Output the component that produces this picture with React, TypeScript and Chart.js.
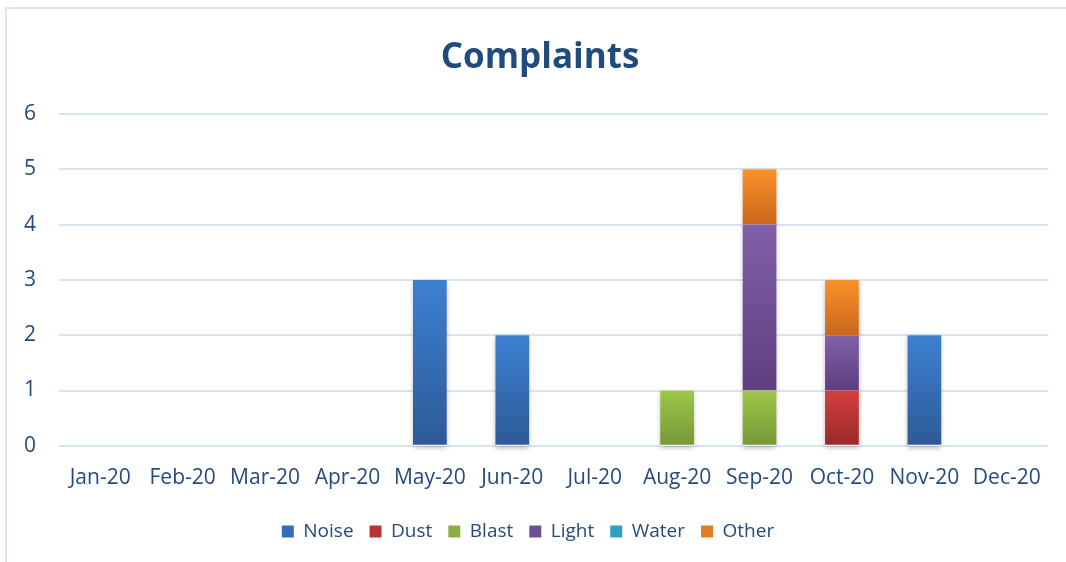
import React, { useEffect, useRef } from "react";
import { Chart, registerables } from "chart.js";

Chart.register(...registerables);

const categories = ["Jan-20", "Feb-20", "Mar-20", "Apr-20", "May-20", "Jun-20", "Jul-20", "Aug-20", "Sep-20", "Oct-20", "Nov-20", "Dec-20"];
const noise = [0, 0, 0, 0, 3, 2, 0, 0, 0, 0, 2, 0];
const dust = [0, 0, 0, 0, 0, 0, 0, 0, 0, 1, 0, 0];
const blast = [0, 0, 0, 0, 0, 0, 0, 1, 1, 0, 0, 0];
const light = [0, 0, 0, 0, 0, 0, 0, 0, 3, 1, 0, 0];
const water = [0, 0, 0, 0, 0, 0, 0, 0, 0, 0, 0, 0];
const other = [0, 0, 0, 0, 0, 0, 0, 0, 1, 1, 0, 0];
const yTicks = [0, 1, 2, 3, 4, 5, 6];

const seriesNames = ["Noise", "Dust", "Blast", "Light", "Water", "Other"];
const seriesData = [noise, dust, blast, light, water, other];
const topColors = ["#3d80d1", "#d23f3d", "#9fc74a", "#8160ab", "#34b4d9", "#f99229"];
const bottomColors = ["#2c5a96", "#9a2a2a", "#77973a", "#5d3f7e", "#2789a6", "#c9661c"];
const midColors = ["#356dba", "#bb3434", "#8bb042", "#6f4f95", "#2f9fc2", "#e27b22"];

const TEXT = "#254a7c";
const FONT = "'Open Sans', 'Noto Sans', sans-serif";

export default function App() {
  const ref = useRef<HTMLCanvasElement | null>(null);
  useEffect(() => {
    if (!ref.current) return;
    const shadowPlugin = {
      id: "barShadow",
      afterLayout(chart: any) {
        if (chart.titleBlock) {
          chart.titleBlock.left += 12;
          chart.titleBlock.right += 12;
        }
      },
      beforeDatasetsDraw(chart: any) {
        const ctx = chart.ctx;
        const meta0 = chart.getDatasetMeta(0);
        const y = chart.scales.y;
        ctx.save();
        ctx.shadowColor = "rgba(0,0,0,0.28)";
        ctx.shadowBlur = 5;
        ctx.shadowOffsetY = 2;
        ctx.fillStyle = "#ffffff";
        categories.forEach((_, i) => {
          let total = 0;
          seriesData.forEach((d) => (total += d[i]));
          if (total <= 0) return;
          const bar: any = meta0.data[i];
          const w = bar.width;
          const top = y.getPixelForValue(total);
          const bottom = y.getPixelForValue(0);
          ctx.fillRect(bar.x - w / 2, top, w, bottom - top);
        });
        ctx.restore();
      },
    };
    const datasets = seriesNames.map((name, s) => ({
      label: name,
      data: seriesData[s],
      borderWidth: 0,
      borderSkipped: false,
      backgroundColor: (c: any) => {
        const chart = c.chart;
        const y = chart.scales && chart.scales.y;
        if (!y || c.dataIndex === undefined || c.type !== "data") return midColors[s];
        let base = 0;
        for (let k = 0; k < s; k++) base += seriesData[k][c.dataIndex];
        const v = seriesData[s][c.dataIndex];
        const top = y.getPixelForValue(base + v);
        const bottom = y.getPixelForValue(base);
        if (!isFinite(top) || !isFinite(bottom) || top === bottom) return midColors[s];
        const g = chart.ctx.createLinearGradient(0, top, 0, bottom);
        g.addColorStop(0, topColors[s]);
        g.addColorStop(1, bottomColors[s]);
        return g;
      },
    }));
    const chart = new Chart(ref.current, {
      type: "bar",
      data: { labels: categories, datasets },
      plugins: [shadowPlugin],
      options: {
        responsive: false,
        animation: false,
        layout: { padding: { left: 0, right: 10, top: 10, bottom: 3 } },
        datasets: { bar: { categoryPercentage: 1, barPercentage: 0.41 } },
        scales: {
          x: {
            stacked: true,
            grid: { display: false, drawTicks: false },
            border: { display: false },
            ticks: { color: TEXT, font: { family: FONT, size: 21 }, padding: 20, maxRotation: 0 },
            afterFit: (axis: any) => {
              axis.height = axis.height - 5;
              axis.paddingLeft = 0;
              axis.paddingRight = 0;
            },
          },
          y: {
            stacked: true,
            min: 0,
            max: 6,
            afterBuildTicks: (axis: any) => {
              axis.ticks = yTicks.map((v) => ({ value: v }));
            },
            afterFit: (axis: any) => {
              axis.width = 51;
            },
            grid: { color: "#d9e4f2", lineWidth: 2, drawTicks: false },
            border: { display: false },
            ticks: { color: TEXT, font: { family: FONT, size: 21 }, padding: 23 },
          },
        },
        plugins: {
          title: {
            display: true,
            text: "Complaints",
            color: "#1f4b7e",
            font: { family: FONT, size: 35, weight: "bold" },
            padding: { top: 19, bottom: 35 },
          },
          legend: {
            position: "bottom",
            labels: {
              color: TEXT,
              font: { family: FONT, size: 19 },
              boxWidth: 12,
              boxHeight: 12,
              padding: 16,
              generateLabels: () =>
                seriesNames.map((n, i) => ({
                  text: n,
                  fillStyle: midColors[i],
                  strokeStyle: midColors[i],
                  lineWidth: 0,
                  datasetIndex: i,
                  hidden: false,
                  fontColor: TEXT,
                })),
            },
          },
          tooltip: { enabled: false },
        },
      },
    });
    return () => chart.destroy();
  }, []);
  return (
    <div>
      <div
        style={{
          position: "fixed",
          left: 5,
          top: 7,
          width: 1100,
          height: 600,
          border: "2px solid #dbe5f2",
          pointerEvents: "none",
        }}
      />
      <canvas ref={ref} width={1050} height={546} style={{ display: "block" }} />
    </div>
  );
}
